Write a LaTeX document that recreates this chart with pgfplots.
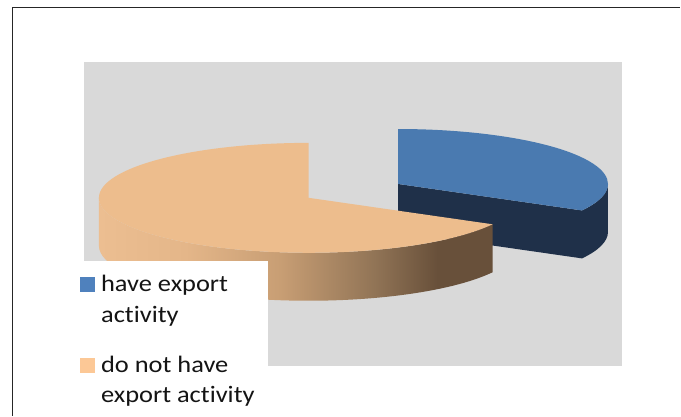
\documentclass[border=0pt]{standalone}
\usepackage{pgfplots}
\pgfplotsset{compat=1.18}
\usepackage{pgfplotstable}
\usepackage{fontspec}
\setmainfont{Carlito}[Ligatures=NoCommon]
\newfontfamily\legfont{Carlito}[FakeStretch=1.12, Ligatures=NoCommon]
\definecolor{bg}{RGB}{217,217,217}
\definecolor{btop}{RGB}{74,122,176}
\definecolor{bside}{RGB}{31,48,73}
\definecolor{otop}{RGB}{237,189,141}
\definecolor{os1}{RGB}{236,190,145}
\definecolor{os2}{RGB}{228,182,137}
\definecolor{os3}{RGB}{200,158,116}
\definecolor{os4}{RGB}{145,116,86}
\definecolor{os5}{RGB}{104,80,58}
\definecolor{legblue}{RGB}{79,129,189}
\definecolor{legorange}{RGB}{252,200,150}
\definecolor{txt}{RGB}{20,20,20}
\pgfdeclarehorizontalshading{orangeside}{100bp}{color(0bp)=(os1); color(25bp)=(os1); color(36bp)=(os2); color(48bp)=(os3); color(60bp)=(os4); color(68bp)=(os5); color(100bp)=(os5)}
\begin{document}%
\begin{tikzpicture}
\pgfplotstableread{
label value
have 33
donot 67
}\piedata
\pgfplotstablegetelem{0}{value}\of\piedata \let\va\pgfplotsretval
\pgfplotstablegetelem{1}{value}\of\piedata \let\vb\pgfplotsretval
\pgfmathsetmacro{\bang}{360*\va/(\va+\vb)}
\pgfmathsetmacro{\splitA}{90-\bang}
\pgfmathsetmacro{\splitO}{\splitA+360}
\pgfmathsetmacro{\midang}{90-\bang/2}
\pgfmathsetmacro{\ox}{309}
\pgfmathsetmacro{\oy}{218}
\pgfmathsetmacro{\oyb}{\oy-48}
\pgfmathsetmacro{\otx}{\ox}
\pgfmathsetmacro{\oty}{\oy+55}
\pgfmathsetmacro{\olx}{\ox-210}
\pgfmathsetmacro{\bx}{\ox+104*cos(\midang)}
\pgfmathsetmacro{\by}{\oy+104*(55/210)*sin(\midang)}
\pgfmathsetmacro{\byb}{\by-48}
\pgfmathsetmacro{\bcx}{\bx+210*cos(\splitA)}
\pgfmathsetmacro{\bcy}{\by+55*sin(\splitA)}
\begin{axis}[scale only axis, width=539pt, height=304pt,
  xmin=84, xmax=623, ymin=50, ymax=354, hide axis, clip=false]
\path (axis cs:0,0) rectangle (axis cs:681,416);
\fill[bg] (axis cs:84,50) rectangle (axis cs:623,354);
% blue slice
\fill[bside] (axis cs:\bx,\by) -- (axis cs:\bcx,\bcy)
  arc[start angle=\splitA, end angle=0, x radius=210pt, y radius=55pt]
  -- ++(0pt,-48pt)
  arc[start angle=0, end angle=\splitA, x radius=210pt, y radius=55pt]
  -- (axis cs:\bx,\byb) -- cycle;
\fill[btop] (axis cs:\bx,\by) -- (axis cs:\bcx,\bcy)
  arc[start angle=\splitA, end angle=90, x radius=210pt, y radius=55pt] -- cycle;
% orange slice
\shade[shading=orangeside] (axis cs:\olx,\oy)
  arc[start angle=180, end angle=\splitO, x radius=210pt, y radius=55pt]
  -- ++(0pt,-48pt)
  arc[start angle=\splitO, end angle=180, x radius=210pt, y radius=55pt] -- cycle;
\fill[otop] (axis cs:\ox,\oy) -- (axis cs:\otx,\oty)
  arc[start angle=90, end angle=\splitO, x radius=210pt, y radius=55pt] -- cycle;
% legend
\fill[white] (axis cs:83,45) rectangle (axis cs:268,155);
\fill[legblue] (axis cs:80,124) rectangle (axis cs:95,139);
\fill[legorange] (axis cs:80,43) rectangle (axis cs:95,58);
\begin{scope}[every node/.style={anchor=base west, inner sep=0pt, text=txt, font=\legfont\fontsize{23.6}{28}\selectfont}]
\node at (axis cs:101,124) {have export};
\node at (axis cs:101,93) {activity};
\node at (axis cs:101,43) {do not have};
\node at (axis cs:101,13) {export activity};
\end{scope}
% frame
\draw[black!85, line width=1.2pt] (axis cs:12.5,0) -- (axis cs:12.5,408.5) -- (axis cs:681,408.5);
\end{axis}
\end{tikzpicture}%
\end{document}
